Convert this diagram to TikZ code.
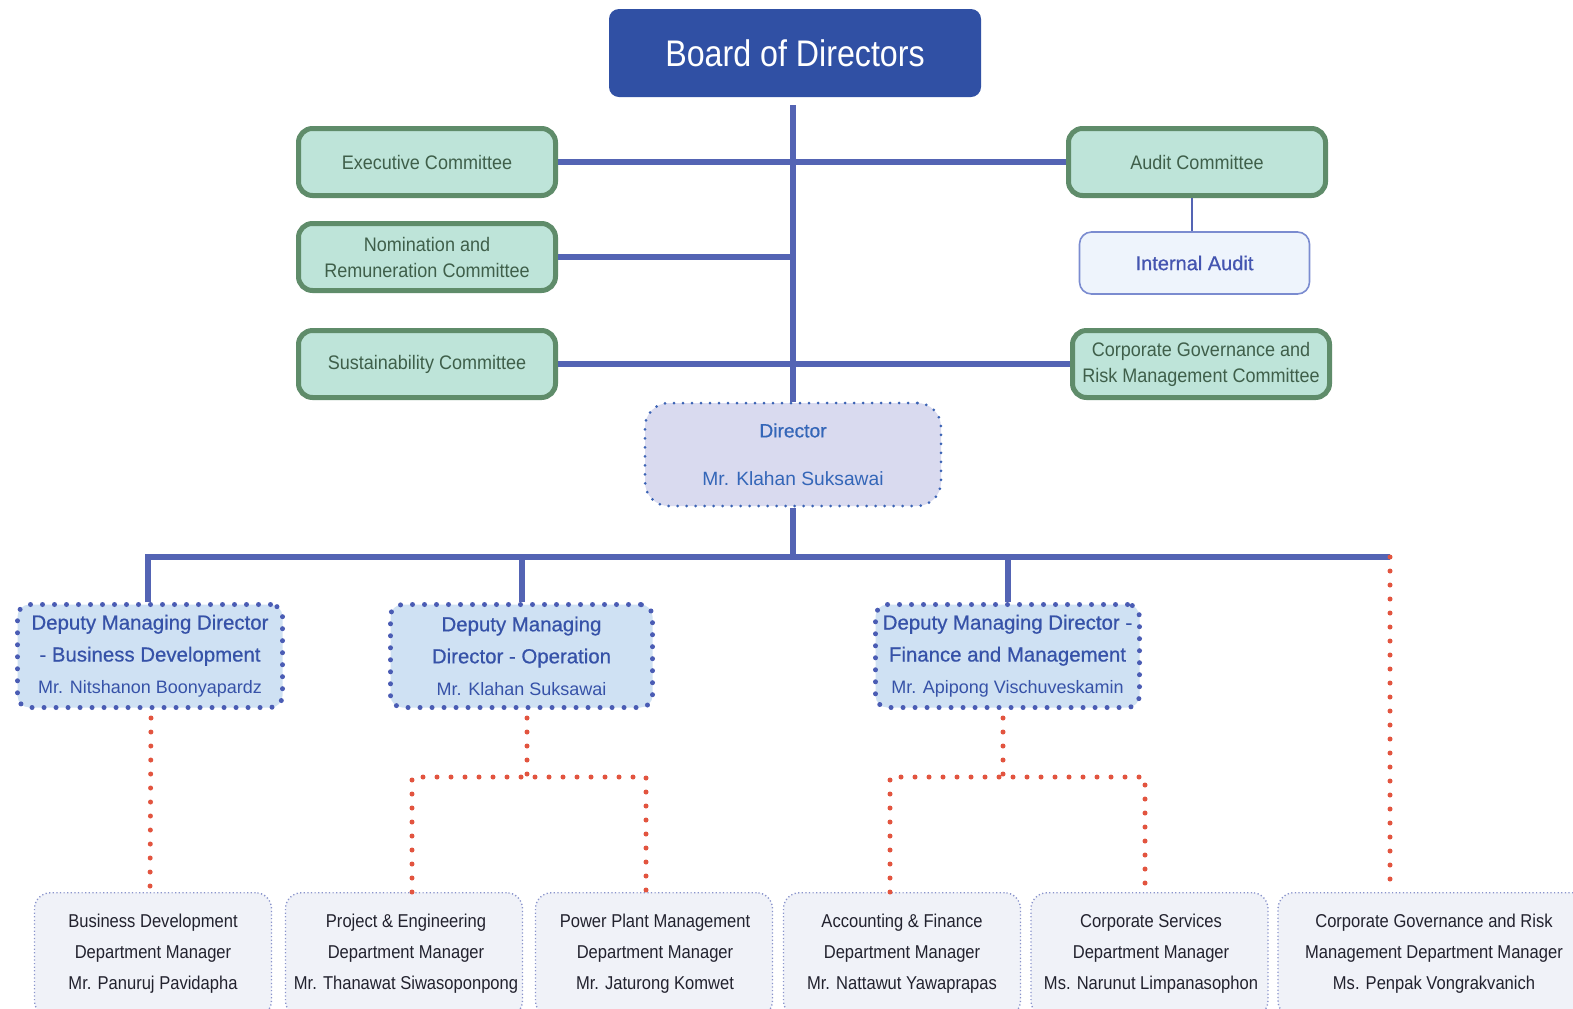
\documentclass[tikz,border=0pt]{standalone}
\usepackage{fontspec}
\setmainfont{Liberation Sans}
\newfontfamily\boardfont[FakeStretch=0.87]{Liberation Sans}
\newfontfamily\condfont[FakeStretch=0.92]{Liberation Sans}
\newfontfamily\btmfont[FakeStretch=0.89]{Liberation Sans}
\newfontfamily\medfont[FakeBold=0.6]{Liberation Sans}
\usetikzlibrary{calc}
\definecolor{boardblue}{HTML}{3050A4}
\definecolor{lineblue}{HTML}{5464B4}
\definecolor{cgreen}{HTML}{5F8C6A}
\definecolor{cfill}{HTML}{BEE4D9}
\definecolor{ctext}{HTML}{3F5F4A}
\definecolor{iafill}{HTML}{EEF4FC}
\definecolor{iaborder}{HTML}{7B8CD0}
\definecolor{iatext}{HTML}{4455B0}
\definecolor{dirfill}{HTML}{D9DAEF}
\definecolor{dirborder}{HTML}{3B63B5}
\definecolor{dirtext}{HTML}{3466B8}
\definecolor{depfill}{HTML}{CFE1F3}
\definecolor{depborder}{HTML}{4A5CB4}
\definecolor{deptext}{HTML}{3652A8}
\definecolor{dotred}{HTML}{E2543F}
\definecolor{btmfill}{HTML}{F0F2F8}
\definecolor{btmborder}{HTML}{8A94CC}
\definecolor{btmtext}{HTML}{22222E}
\begin{document}
\begin{tikzpicture}[x=0.5pt,y=-0.5pt,
  boardbox/.style={fill=boardblue, rounded corners=5pt, minimum width=186pt, minimum height=44pt, text=white, inner sep=0pt, font=\boardfont\fontsize{18.5}{22}\selectfont},
  committee/.style={draw=cgreen, line width=2.5pt, fill=cfill, rounded corners=7pt, minimum width=128.5pt, minimum height=33.5pt, text=ctext, align=center, inner sep=0pt, font=\condfont\fontsize{9.8}{13}\selectfont},
  iabox/.style={draw=iaborder, line width=0.8pt, fill=iafill, rounded corners=6pt, minimum width=115pt, minimum height=31pt, text=iatext, inner sep=0pt, font=\medfont\fontsize{10}{12}\selectfont},
  dirbox/.style={draw=dirborder, line width=1.5pt, dash pattern=on 0pt off 4.5pt, line cap=round, fill=dirfill, rounded corners=12pt, minimum width=148pt, minimum height=51.5pt, align=center, text=dirtext, inner sep=0pt, font=\fontsize{9.6}{24}\selectfont},
  depbox/.style={draw=depborder, line width=2.5pt, dash pattern=on 0pt off 6pt, line cap=round, fill=depfill, rounded corners=6pt, minimum height=51.5pt, align=center, text=deptext, inner sep=0pt, font=\fontsize{10.2}{16}\selectfont},
  btmbox/.style={draw=btmborder, line width=0.7pt, dash pattern=on 0.6pt off 1.2pt, fill=btmfill, rounded corners=8pt, minimum width=118.5pt, minimum height=62pt, anchor=north, inner sep=0pt},
  btmlabel/.style={align=center, text=btmtext, inner sep=0pt, font=\btmfont\fontsize{9.3}{15.5}\selectfont},
  conn/.style={draw=lineblue, line width=3pt},
  thinconn/.style={draw=lineblue, line width=1pt},
  reddot/.style={draw=dotred, line width=2.5pt, dash pattern=on 0pt off 7pt, line cap=round}
]
\clip (0,0) rectangle (1573,1008);
\fill[white] (0,0) rectangle (1573,1008);

% top level
\node[boardbox] (board) at (795,53) {Board of Directors};
\node[committee] (exec) at (427,162) {Executive Committee};
\node[committee] (nom) at (427,257) {Nomination and\\Remuneration Committee};
\node[committee] (sust) at (427,364) {Sustainability Committee};
\node[committee] (audit) at (1197,162) {Audit Committee};
\node[iabox] (ia) at (1194.5,263) {Internal Audit};
\node[committee] (cgc) at (1201,364) {Corporate Governance and\\Risk Management Committee};
\node[dirbox] (dir) at (793,454.5) {{\medfont Director}\\Mr. Klahan Suksawai};

% deputies
\node[depbox, minimum width=132.5pt] (d1) at (150,656) {{\medfont Deputy Managing Director}\\{\medfont - Business Development}\\{\fontsize{9}{16}\selectfont Mr. Nitshanon Boonyapardz}};
\node[depbox, minimum width=131pt] (d2) at (521.5,656) {{\medfont Deputy Managing}\\{\medfont Director - Operation}\\{\fontsize{9}{16}\selectfont Mr. Klahan Suksawai}};
\node[depbox, minimum width=132pt] (d3) at (1007.5,656) {{\medfont Deputy Managing Director -}\\{\medfont Finance and Management}\\{\fontsize{9}{16}\selectfont Mr. Apipong Vischuveskamin}};

% bottom departments
\node[btmbox] (m1) at (153,892) {};
\node[btmbox] (m2) at (404,892) {};
\node[btmbox] (m3) at (654,892) {};
\node[btmbox] (m4) at (902,892) {};
\node[btmbox] (m5) at (1149.5,892) {};
\node[btmbox, minimum width=161pt] (m6) at (1439,892) {};
\node[btmlabel] (m1t) at (153,954) {Business Development\\Department Manager\\Mr. Panuruj Pavidapha};
\node[btmlabel] (m2t) at (406,954) {Project \& Engineering\\Department Manager\\Mr. Thanawat Siwasoponpong};
\node[btmlabel] (m3t) at (655,954) {Power Plant Management\\Department Manager\\Mr. Jaturong Komwet};
\node[btmlabel] (m4t) at (902,954) {Accounting \& Finance\\Department Manager\\Mr. Nattawut Yawaprapas};
\node[btmlabel] (m5t) at (1151,954) {Corporate Services\\Department Manager\\Ms. Narunut Limpanasophon};
\node[btmlabel] (m6t) at (1434,954) {Corporate Governance and Risk\\Management Department Manager\\Ms. Penpak Vongrakvanich};

% blue connectors
\coordinate (top) at (793,105);
\draw[conn] (top) -- (dir.north);
\draw[conn] (exec.east) -- (audit.west);
\draw[conn] (nom.east) -- (nom.east -| top);
\draw[conn] (sust.east) -- (cgc.west);
\draw[thinconn] (ia.north -| 1192,0) -- (audit.south -| 1192,0);
\coordinate (bus) at (793,557);
\coordinate (busR) at (1390,557);
\coordinate (busL) at (148,557);
\draw[conn] (dir.south) -- (bus);
\draw[conn] (busL |- d1.north) -- (busL) -- (busR);
\draw[conn] (d2.north) -- (d2.north |- bus);
\draw[conn] (d3.north) -- (d3.north |- bus);

% red dotted connectors
\draw[reddot] (busR) -- (busR |- m6.north);
\draw[reddot] ($(d1.south)+(1,8)$) -- (d1.south |- m1.north);
\coordinate (j2) at (527,777);
\coordinate (l2) at (412,777);
\coordinate (r2) at (646,777);
\draw[reddot] ($(j2 |- d2.south)+(0,8)$) -- (j2);
\draw[reddot] (l2 |- m2.north) -- (l2) -- (r2) -- (r2 |- m3.north);
\coordinate (j3) at (1003,777);
\coordinate (l3) at (890,777);
\coordinate (r3) at (1145,777);
\draw[reddot] ($(j3 |- d3.south)+(0,8)$) -- (j3);
\draw[reddot] (l3 |- m4.north) -- (l3) -- (r3) -- (r3 |- m5.north);
\end{tikzpicture}
\end{document}
